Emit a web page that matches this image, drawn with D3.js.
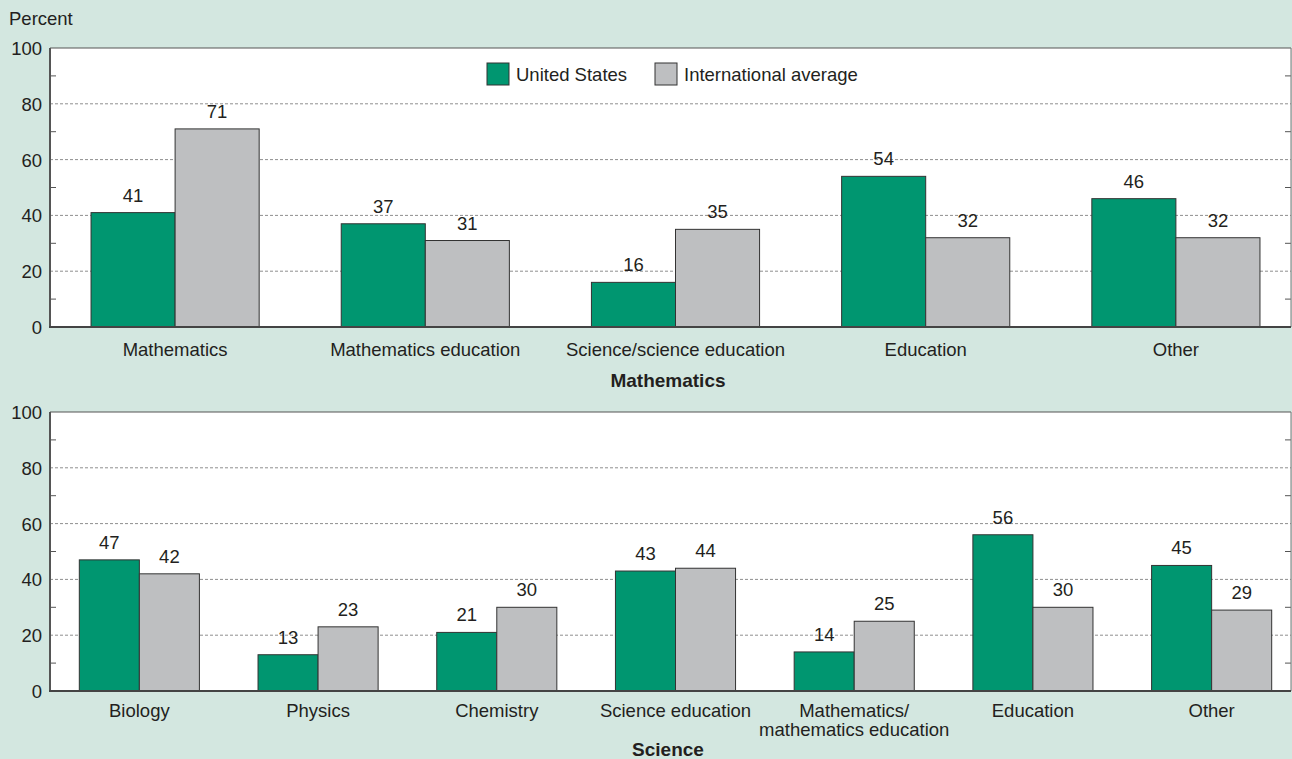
<!DOCTYPE html>
<html>
<head>
<meta charset="utf-8">
<script src="https://cdn.jsdelivr.net/npm/d3@7"></script>
<style>
  body { margin: 0; background: #d3e7e0; }
  svg { display: block; font-family: "Liberation Sans", Arial, sans-serif; }
</style>
</head>
<body>
<div id="app"></div>
<script>
// data
const mathCategories = [['Mathematics'], ['Mathematics education'], ['Science/science education'], ['Education'], ['Other']]
const mathUS = [41, 37, 16, 54, 46]
const mathIntl = [71, 31, 35, 32, 32]

const sciCategories = [['Biology'], ['Physics'], ['Chemistry'], ['Science education'], ['Mathematics/', 'mathematics education'], ['Education'], ['Other']]
const sciUS = [47, 13, 21, 43, 14, 56, 45]
const sciIntl = [42, 23, 30, 44, 25, 30, 29]

const seriesNames = ['United States', 'International average']
const yTicks = [0, 20, 40, 60, 80, 100]
const minorTicks = [10, 30, 50, 70, 90]

const W = 1292, H = 759
const colors = ['#009670', '#bebfc1']
const textColor = '#231f20'
const fs = 18.5

const svg = d3.select('#app').append('svg')
  .attr('width', W).attr('height', H)

svg.append('rect').attr('width', W).attr('height', H).attr('fill', '#d3e7e0')

svg.append('text')
  .attr('x', 9).attr('y', 25)
  .attr('font-size', fs).attr('fill', textColor)
  .text('Percent')

function panel(cfg) {
  const { top, bottom, cats, us, intl, title, titleY, labelY } = cfg
  const left = 50, right = 1291
  const g = svg.append('g')

  const y = d3.scaleLinear().domain([0, 100]).range([bottom, top])
  // the band scale runs past the picture's right edge, as in the original
  const x = d3.scaleBand().domain(cats.map((d, i) => i)).range([left, 1301]).paddingInner(0.328).paddingOuter(0.164)
  const xs = d3.scaleBand().domain([0, 1]).range([0, x.bandwidth()])

  g.append('rect')
    .attr('x', left).attr('y', top)
    .attr('width', right - left).attr('height', bottom - top)
    .attr('fill', '#fff')

  // dashed grid
  g.selectAll('line.grid').data(yTicks.filter(d => d > 0 && d < 100)).join('line')
    .attr('x1', left).attr('x2', right)
    .attr('y1', d => y(d)).attr('y2', d => y(d))
    .attr('stroke', '#8f8f8f').attr('stroke-dasharray', '3,2').attr('stroke-width', 1)

  // minor ticks left and right
  g.selectAll('line.ml').data(minorTicks).join('line')
    .attr('x1', left).attr('x2', left + 6)
    .attr('y1', d => y(d)).attr('y2', d => y(d))
    .attr('stroke', '#555')
  g.selectAll('line.mr').data(minorTicks).join('line')
    .attr('x1', right - 6).attr('x2', right)
    .attr('y1', d => y(d)).attr('y2', d => y(d))
    .attr('stroke', '#555')

  const rows = cats.map((c, i) => ({ i, vals: [us[i], intl[i]] }))
  const grp = g.selectAll('g.cat').data(rows).join('g')
    .attr('transform', d => `translate(${x(d.i)},0)`)

  grp.selectAll('rect').data(d => d.vals).join('rect')
    .attr('x', (d, j) => xs(j))
    .attr('y', d => y(d))
    .attr('width', xs.bandwidth())
    .attr('height', d => y(0) - y(d))
    .attr('fill', (d, j) => colors[j])
    .attr('stroke', '#333').attr('stroke-width', 1)

  grp.selectAll('text').data(d => d.vals).join('text')
    .attr('x', (d, j) => xs(j) + xs.bandwidth() / 2)
    .attr('y', d => y(d) - 11)
    .attr('text-anchor', 'middle')
    .attr('font-size', fs).attr('fill', textColor)
    .text(d => d)

  // frame: top, right, left and bottom
  g.append('line').attr('x1', left).attr('x2', right).attr('y1', top).attr('y2', top).attr('stroke', '#555')
  g.append('line').attr('x1', right).attr('x2', right).attr('y1', top).attr('y2', bottom).attr('stroke', '#777')
  g.append('line').attr('x1', left).attr('x2', left).attr('y1', top).attr('y2', bottom).attr('stroke', '#555').attr('stroke-width', 2)
  g.append('line').attr('x1', left - 1).attr('x2', right).attr('y1', bottom).attr('y2', bottom).attr('stroke', '#444').attr('stroke-width', 2)

  // y tick labels
  g.selectAll('text.yt').data(yTicks).join('text')
    .attr('x', 42).attr('y', d => y(d) + 7)
    .attr('text-anchor', 'end')
    .attr('font-size', fs).attr('fill', textColor)
    .text(d => d)

  // category labels
  const lab = g.selectAll('text.cl').data(cats).join('text')
    .attr('x', (d, i) => x(i) + x.bandwidth() / 2)
    .attr('y', labelY)
    .attr('text-anchor', 'middle')
    .attr('font-size', fs).attr('fill', textColor)
  lab.selectAll('tspan').data(d => d).join('tspan')
    .attr('x', function () { return this.parentNode.getAttribute('x') })
    .attr('dy', (d, k) => k === 0 ? 0 : 19)
    .text(d => d)

  g.append('text')
    .attr('x', 668).attr('y', titleY)
    .attr('text-anchor', 'middle')
    .attr('font-size', 19).attr('font-weight', 'bold').attr('fill', textColor)
    .text(title)
}

panel({ top: 48, bottom: 327, cats: mathCategories, us: mathUS, intl: mathIntl, title: 'Mathematics', titleY: 387, labelY: 356 })
panel({ top: 412, bottom: 691, cats: sciCategories, us: sciUS, intl: sciIntl, title: 'Science', titleY: 756, labelY: 717 })

// legend
const legend = svg.append('g')
const legX = [487, 655]
seriesNames.forEach((name, j) => {
  legend.append('rect')
    .attr('x', legX[j]).attr('y', 63).attr('width', 22).attr('height', 22)
    .attr('fill', colors[j]).attr('stroke', '#333')
  legend.append('text')
    .attr('x', legX[j] + 29).attr('y', 81)
    .attr('font-size', fs).attr('fill', textColor)
    .text(name)
})
</script>
</body>
</html>
